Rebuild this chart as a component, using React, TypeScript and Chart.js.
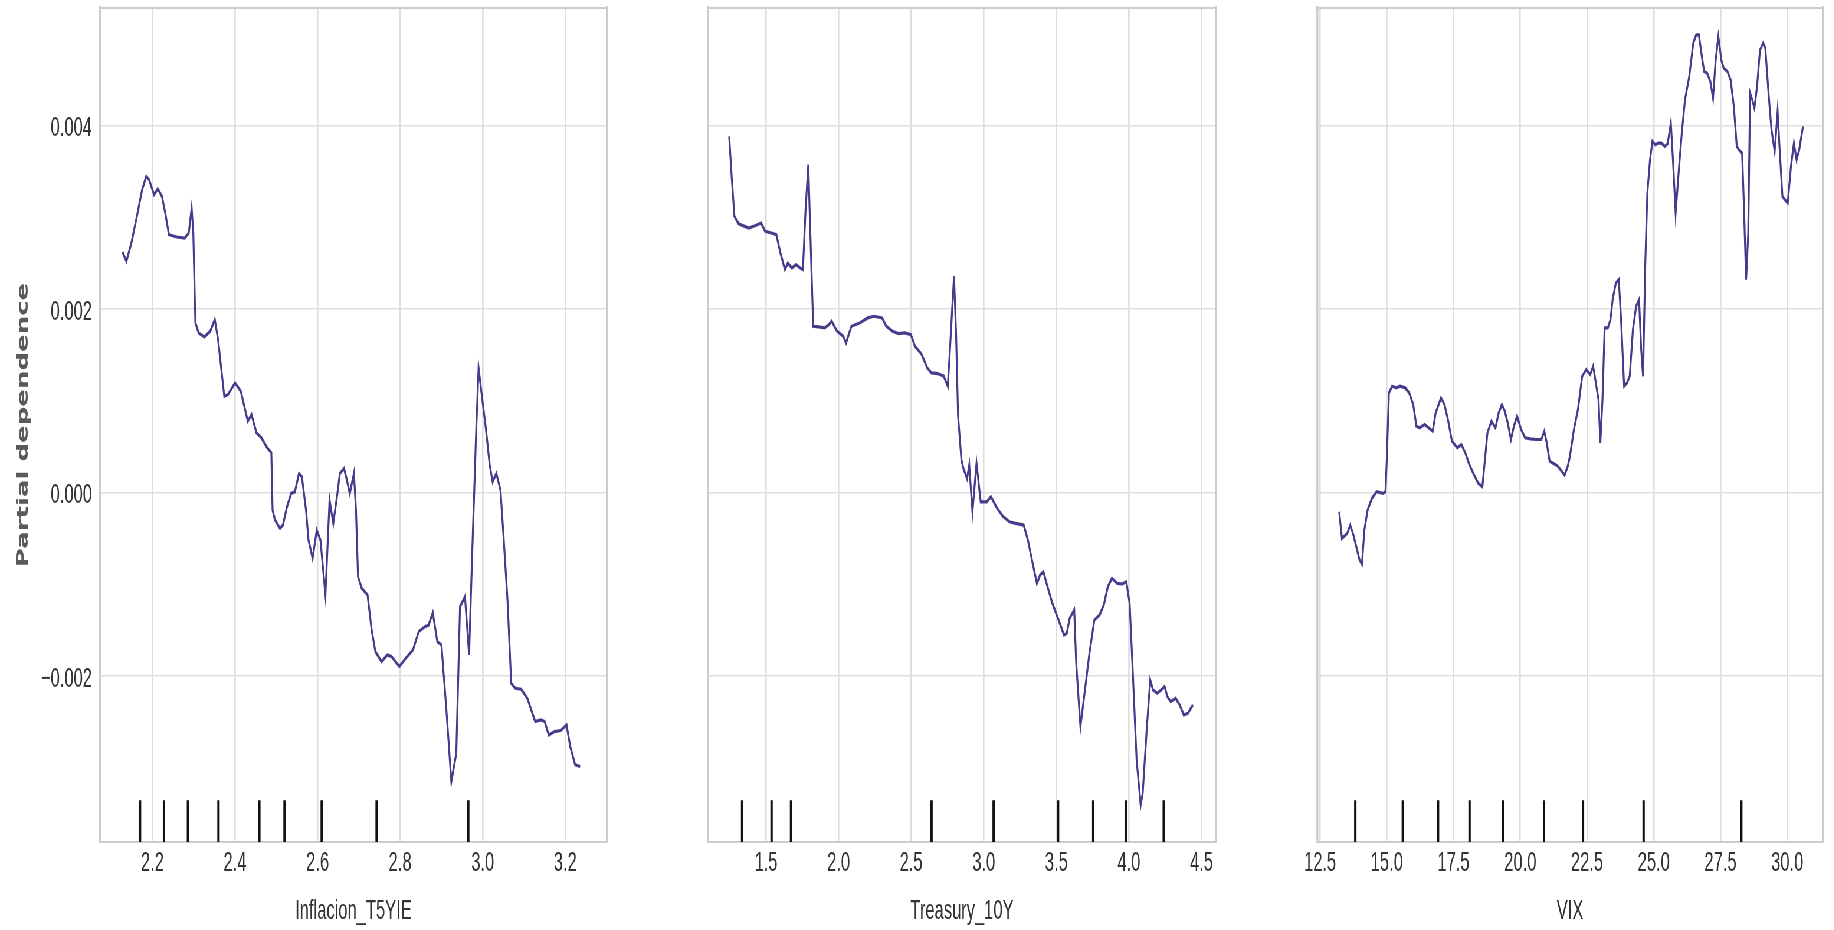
import { useEffect, useRef } from "react";
import { Chart, registerables } from "chart.js";

Chart.register(...registerables);

// Shared partial-dependence axis
const Y_TICKS = [-0.002, 0, 0.002, 0.004];
const Y_MIN = -0.00381;
const Y_MAX = 0.00528;

// Inflacion_T5YIE
const INFL_TICKS = [2.2, 2.4, 2.6, 2.8, 3.0, 3.2];
const INFL_DECILES = [2.17, 2.228, 2.286, 2.36, 2.459, 2.52, 2.61, 2.743, 2.965];
const INFL_GRID = [
  2.1275, 2.137, 2.149, 2.164, 2.175, 2.185, 2.192, 2.204, 2.213, 2.223, 2.231, 2.24, 2.259, 2.278,
  2.288, 2.295, 2.299, 2.304, 2.312, 2.326, 2.34, 2.351, 2.359, 2.374, 2.383, 2.4, 2.414, 2.431, 2.44,
  2.452, 2.464, 2.478, 2.488, 2.491, 2.497, 2.509, 2.516, 2.526, 2.536, 2.545, 2.555, 2.562, 2.572,
  2.578, 2.588, 2.598, 2.607, 2.619, 2.629, 2.638, 2.648, 2.654, 2.664, 2.671, 2.678, 2.688, 2.693,
  2.698, 2.707, 2.721, 2.731, 2.74, 2.755, 2.769, 2.779, 2.798, 2.817, 2.831, 2.845, 2.86, 2.869,
  2.879, 2.89, 2.9, 2.912, 2.924, 2.936, 2.945, 2.957, 2.967, 2.974, 2.984, 2.99, 2.998, 3.007, 3.017,
  3.024, 3.033, 3.043, 3.05, 3.06, 3.069, 3.079, 3.093, 3.108, 3.127, 3.141, 3.15, 3.16, 3.174, 3.189,
  3.203, 3.212, 3.224, 3.236,
];
const INFL_PD = [
  0.002621, 0.002519, 0.002719, 0.003045, 0.003299, 0.003445, 0.003408, 0.003245, 0.00331, 0.003227,
  0.003045, 0.002809, 0.002784, 0.002773, 0.002828, 0.0031, 0.002828, 0.001848, 0.001739, 0.001695,
  0.001757, 0.001884, 0.001666, 0.001049, 0.001067, 0.001194, 0.001103, 0.000777, 0.000849, 0.00065,
  0.000595, 0.000486, 0.000432, -0.000192, -0.000301, -0.000392, -0.000356, -0.000156, -0.000011,
  0.000007, 0.000207, 0.000171, -0.000192, -0.000519, -0.000719, -0.00041, -0.000519, -0.001118,
  -0.000083, -0.000338, -0.000011, 0.000207, 0.000261, 0.000134, -0.000011, 0.000207, -0.000192,
  -0.000918, -0.001045, -0.001118, -0.001499, -0.001735, -0.001844, -0.001771, -0.001789, -0.001898,
  -0.001789, -0.001717, -0.001517, -0.001463, -0.001445, -0.00131, -0.001626, -0.001662, -0.00237,
  -0.003151, -0.002842, -0.001245, -0.001136, -0.001771, -0.000737, 0.00065, 0.001357, 0.001049,
  0.000722, 0.000298, 0.000116, 0.000207, 0.000025, -0.000447, -0.001172, -0.00208, -0.002134,
  -0.002145, -0.002243, -0.002497, -0.002479, -0.002497, -0.002643, -0.002606, -0.002595, -0.002534,
  -0.00277, -0.002969, -0.002987,
];

// Treasury_10Y
const TREAS_TICKS = [1.5, 2.0, 2.5, 3.0, 3.5, 4.0, 4.5];
const TREAS_DECILES = [1.335, 1.538, 1.672, 2.64, 3.068, 3.512, 3.754, 3.978, 4.24];
const TREAS_GRID = [
  1.246, 1.263, 1.282, 1.311, 1.353, 1.381, 1.424, 1.466, 1.494, 1.537, 1.571, 1.599, 1.63, 1.65,
  1.678, 1.706, 1.735, 1.754, 1.771, 1.791, 1.805, 1.825, 1.862, 1.904, 1.933, 1.952, 1.989, 2.032,
  2.051, 2.088, 2.145, 2.201, 2.244, 2.3, 2.328, 2.371, 2.413, 2.456, 2.498, 2.526, 2.569, 2.611,
  2.639, 2.682, 2.724, 2.752, 2.767, 2.795, 2.809, 2.823, 2.846, 2.86, 2.885, 2.9, 2.922, 2.95, 2.979,
  3.021, 3.049, 3.092, 3.134, 3.177, 3.219, 3.275, 3.304, 3.332, 3.366, 3.388, 3.411, 3.439, 3.473,
  3.515, 3.553, 3.572, 3.592, 3.623, 3.637, 3.666, 3.7, 3.728, 3.762, 3.798, 3.827, 3.855, 3.883, 3.92,
  3.954, 3.982, 4.005, 4.025, 4.053, 4.081, 4.095, 4.124, 4.147, 4.166, 4.195, 4.223, 4.246, 4.265,
  4.288, 4.322, 4.35, 4.378, 4.407, 4.427, 4.441,
];
const TREAS_PD = [
  0.00388, 0.003445, 0.003009, 0.002929, 0.0029, 0.002882, 0.002907, 0.002936, 0.002846, 0.002828,
  0.002809, 0.00261, 0.002428, 0.002501, 0.002446, 0.002483, 0.002446, 0.002428, 0.003045, 0.003572,
  0.002828, 0.001811, 0.001804, 0.001793, 0.001829, 0.001866, 0.001757, 0.001702, 0.00163, 0.001811,
  0.001847, 0.001902, 0.00192, 0.001902, 0.001811, 0.001757, 0.001731, 0.001739, 0.00172, 0.001593,
  0.001513, 0.001357, 0.001303, 0.001296, 0.001267, 0.001158, 0.001557, 0.002356, 0.001739, 0.000831,
  0.000359, 0.00026, 0.00015, 0.0003, -0.00021, 0.000316, -0.000102, -0.000102, -0.000047, -0.000174,
  -0.000265, -0.000319, -0.000338, -0.000356, -0.000519, -0.000737, -0.000991, -0.0009, -0.000864,
  -0.001027, -0.001209, -0.00139, -0.001554, -0.001536, -0.001372, -0.001281, -0.001862, -0.002552,
  -0.002116, -0.001753, -0.00139, -0.001336, -0.001227, -0.001027, -0.000936, -0.000991, -0.000998,
  -0.000973, -0.001209, -0.001898, -0.002915, -0.003405, -0.003278, -0.002552, -0.002044, -0.002152,
  -0.002189, -0.002152, -0.002116, -0.002225, -0.00228, -0.002243, -0.002316, -0.002425, -0.002407,
  -0.002352, -0.002316,
];

// VIX
const VIX_TICKS = [12.5, 15.0, 17.5, 20.0, 22.5, 25.0, 27.5, 30.0];
const VIX_DECILES = [13.82, 15.6, 16.92, 18.1, 19.35, 20.89, 22.35, 24.62, 28.28];
const VIX_GRID = [
  13.216, 13.32, 13.52, 13.63, 13.75, 13.98, 14.07, 14.16, 14.28, 14.44, 14.62, 14.85, 14.95, 15.0,
  15.08, 15.2, 15.35, 15.5, 15.69, 15.84, 15.99, 16.11, 16.23, 16.42, 16.57, 16.72, 16.83, 17.03, 17.16,
  17.29, 17.44, 17.64, 17.79, 17.94, 18.09, 18.25, 18.43, 18.58, 18.77, 18.92, 19.07, 19.19, 19.31,
  19.42, 19.53, 19.65, 19.76, 19.88, 20.03, 20.18, 20.38, 20.59, 20.79, 20.9, 20.99, 21.1, 21.25, 21.4,
  21.55, 21.66, 21.78, 21.86, 22.01, 22.16, 22.32, 22.47, 22.62, 22.73, 22.93, 23.0, 23.08, 23.16,
  23.28, 23.38, 23.46, 23.58, 23.69, 23.77, 23.89, 24.0, 24.1, 24.22, 24.34, 24.45, 24.53, 24.6, 24.68,
  24.76, 24.86, 24.95, 25.06, 25.17, 25.29, 25.41, 25.52, 25.64, 25.72, 25.82, 25.95, 26.05, 26.17,
  26.33, 26.48, 26.59, 26.69, 26.81, 26.89, 27.0, 27.12, 27.22, 27.32, 27.42, 27.53, 27.62, 27.76,
  27.88, 28.0, 28.11, 28.19, 28.31, 28.37, 28.46, 28.54, 28.61, 28.69, 28.77, 28.87, 28.98, 29.1,
  29.18, 29.3, 29.41, 29.53, 29.64, 29.71, 29.82, 29.91, 30.02, 30.14, 30.25, 30.35, 30.45, 30.59,
];
const VIX_PD = [
  -0.00021, -0.000501, -0.000446, -0.000356, -0.000465, -0.000737, -0.00078, -0.00041, -0.000192,
  -0.000065, 0.000007, -0.000011, 0.000007, 0.000359, 0.001085, 0.001158, 0.00114, 0.001158, 0.00114,
  0.001085, 0.000958, 0.000722, 0.000704, 0.000741, 0.000704, 0.000668, 0.000867, 0.001031, 0.000958,
  0.000795, 0.000559, 0.000486, 0.000523, 0.000432, 0.000305, 0.0002, 0.000098, 0.000062, 0.00065,
  0.000777, 0.000704, 0.000867, 0.000958, 0.000886, 0.000758, 0.000577, 0.000722, 0.000831, 0.000686,
  0.000595, 0.000584, 0.000577, 0.000577, 0.000668, 0.000541, 0.000341, 0.000316, 0.000287, 0.00023,
  0.000189, 0.000287, 0.000395, 0.000686, 0.000904, 0.001267, 0.001339, 0.001285, 0.001376, 0.001013,
  0.000541, 0.001013, 0.001793, 0.001793, 0.001884, 0.002102, 0.002283, 0.002319, 0.00192, 0.001158,
  0.001194, 0.001267, 0.001775, 0.002029, 0.002102, 0.001557, 0.001267, 0.002465, 0.003263, 0.003626,
  0.003826, 0.003789, 0.003808, 0.003808, 0.003771, 0.0038, 0.004025, 0.003626, 0.003045, 0.003554,
  0.003916, 0.004279, 0.004534, 0.004897, 0.004987, 0.004987, 0.004733, 0.004588, 0.00457, 0.004479,
  0.004298, 0.004715, 0.004969, 0.004715, 0.004624, 0.004588, 0.004497, 0.004207, 0.003771, 0.003735,
  0.003699, 0.003191, 0.002319, 0.002828, 0.004352, 0.004279, 0.004189, 0.004425, 0.004824, 0.004897,
  0.004842, 0.004352, 0.003953, 0.003717, 0.004152, 0.003771, 0.003227, 0.003191, 0.003154, 0.003554,
  0.003808, 0.003626, 0.003735, 0.003989,
];

// Figure geometry (page pixels); the whole figure is drawn wide and squeezed horizontally
const FIG_W = 1834;
const FIG_H = 930;
const SQUEEZE = 0.59;
const PLOT_TOP = 8;
const PLOT_BOTTOM = 842;

const LINE_COLOR = "#463c8c";
const GRID_COLOR = "#dedede";
const FRAME_COLOR = "#cccccc";
const TEXT_COLOR = "#333333";
const TICK_FONT = "'Liberation Sans', Arial, sans-serif";

type PanelSpec = {
  title: string;
  grid: number[];
  pd: number[];
  deciles: number[];
  ticks: number[];
  xMin: number;
  xMax: number;
  left: number;
  right: number;
  showY: boolean;
};

const PANELS: PanelSpec[] = [
  { title: "Inflacion_T5YIE", grid: INFL_GRID, pd: INFL_PD, deciles: INFL_DECILES, ticks: INFL_TICKS, xMin: 2.073, xMax: 3.301, left: 100, right: 607, showY: true },
  { title: "Treasury_10Y", grid: TREAS_GRID, pd: TREAS_PD, deciles: TREAS_DECILES, ticks: TREAS_TICKS, xMin: 1.1, xMax: 4.6, left: 708, right: 1216, showY: false },
  { title: "VIX", grid: VIX_GRID, pd: VIX_PD, deciles: VIX_DECILES, ticks: VIX_TICKS, xMin: 12.385, xMax: 31.34, left: 1317, right: 1823, showY: false },
];

function PdPanel({ spec }: { spec: PanelSpec }) {
  const ref = useRef<HTMLCanvasElement>(null);
  const leftW = spec.left / SQUEEZE;
  const rightW = spec.right / SQUEEZE;
  const canvasLeft = spec.showY ? 0 : Math.floor(leftW - 60);
  const axisW = leftW - canvasLeft;
  const canvasW = Math.ceil(rightW - canvasLeft + 40);
  const padRight = canvasW - (rightW - canvasLeft);

  useEffect(() => {
    const canvas = ref.current;
    if (!canvas) return;
    const curve = spec.grid.map((x, i) => ({ x, y: spec.pd[i] }));
    const rugTop = Y_MIN + 0.05 * (Y_MAX - Y_MIN);
    const rug = spec.deciles.flatMap((d) => [
      { x: d, y: Y_MIN },
      { x: d, y: rugTop },
      { x: d, y: null },
    ]);
    const edgeAxis = {
      display: true,
      type: "linear" as const,
      grid: { display: false },
      ticks: { display: false },
    };
    const chart = new Chart(canvas, {
      type: "line",
      data: {
        datasets: [
          { data: rug as any, borderColor: "#111111", borderWidth: 4, pointRadius: 0, spanGaps: false, order: 2 },
          { data: curve, borderColor: LINE_COLOR, borderWidth: 3.2, pointRadius: 0, tension: 0, order: 1 },
        ],
      },
      options: {
        animation: false,
        responsive: false,
        events: [],
        layout: { padding: { top: PLOT_TOP, right: padRight, bottom: 0, left: 0 } },
        plugins: { legend: { display: false }, tooltip: { enabled: false } },
        scales: {
          x: {
            type: "linear",
            position: "bottom",
            min: spec.xMin,
            max: spec.xMax,
            afterBuildTicks: (s: any) => {
              s.ticks = spec.ticks.map((v) => ({ value: v }));
            },
            afterFit: (s: any) => {
              s.height = FIG_H - PLOT_BOTTOM;
              s.paddingLeft = 0;
              s.paddingRight = 0;
            },
            grid: { color: GRID_COLOR, lineWidth: 2.6, drawTicks: false },
            border: { display: true, color: FRAME_COLOR, width: 2 },
            ticks: {
              padding: 4,
              maxRotation: 0,
              autoSkip: false,
              color: TEXT_COLOR,
              font: { family: TICK_FONT, size: 28 },
              callback: (v: any) => Number(v).toFixed(1),
            },
            title: {
              display: true,
              text: spec.title,
              color: TEXT_COLOR,
              font: { family: TICK_FONT, size: 28 },
              padding: { top: 0, bottom: 2 },
            },
          },
          y: {
            type: "linear",
            position: "left",
            min: Y_MIN,
            max: Y_MAX,
            afterBuildTicks: (s: any) => {
              s.ticks = Y_TICKS.map((v) => ({ value: v }));
            },
            afterFit: (s: any) => {
              s.width = axisW;
              s.paddingTop = 0;
              s.paddingBottom = 0;
            },
            grid: { color: GRID_COLOR, lineWidth: 1.6, drawTicks: false },
            border: { display: true, color: FRAME_COLOR, width: 3.4 },
            ticks: {
              display: spec.showY,
              padding: 8 / SQUEEZE,
              labelOffset: 3,
              color: TEXT_COLOR,
              font: { family: TICK_FONT, size: 28 },
              callback: (v: any) => (Number(v) < 0 ? "\u2212" : "") + Math.abs(Number(v)).toFixed(3),
            },
            title: {
              display: spec.showY,
              text: "Partial dependence",
              color: "#5a5a5a",
              font: { family: "'DejaVu Sans', sans-serif", size: 26, weight: "bold" },
              padding: { top: 24 / SQUEEZE - 15.6, bottom: 0 },
            },
          },
          xTop: {
            ...edgeAxis,
            position: "top",
            border: { display: true, color: FRAME_COLOR, width: 2 },
            afterFit: (s: any) => {
              s.height = 0;
              s.paddingLeft = 0;
              s.paddingRight = 0;
            },
          },
          yRight: {
            ...edgeAxis,
            position: "right",
            border: { display: true, color: FRAME_COLOR, width: 3.4 },
            afterFit: (s: any) => {
              s.width = 0;
              s.paddingTop = 0;
              s.paddingBottom = 0;
            },
          },
        },
      } as any,
    });
    return () => chart.destroy();
  }, []);

  return (
    <canvas
      ref={ref}
      width={canvasW}
      height={FIG_H}
      style={{ position: "absolute", left: canvasLeft, top: 0, width: canvasW, height: FIG_H }}
    />
  );
}

export default function App() {
  return (
    <div
      style={{
        position: "fixed",
        left: 0,
        top: 0,
        width: FIG_W / SQUEEZE,
        height: FIG_H,
        background: "#ffffff",
        transform: `scaleX(${SQUEEZE})`,
        transformOrigin: "0 0",
        overflow: "hidden",
      }}
    >
      {PANELS.map((p) => (
        <PdPanel key={p.title} spec={p} />
      ))}
    </div>
  );
}
